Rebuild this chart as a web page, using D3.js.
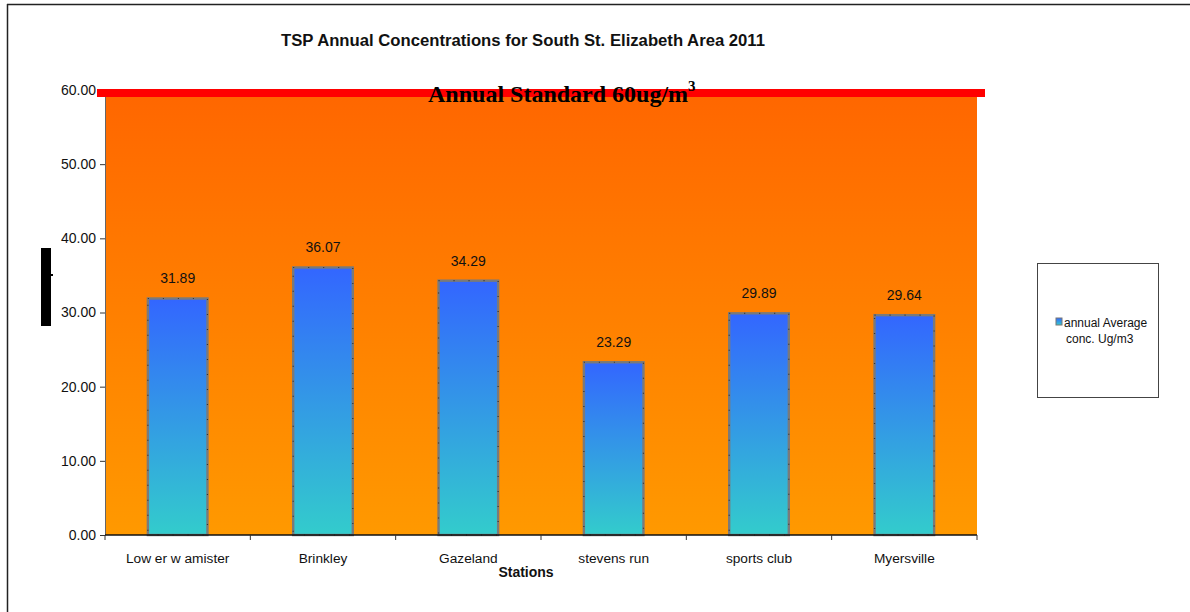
<!DOCTYPE html>
<html>
<head>
<meta charset="utf-8">
<script src="https://cdn.jsdelivr.net/npm/d3@7"></script>
<style>
  html, body { margin: 0; padding: 0; background: #fff; }
  svg { display: block; font-family: "Liberation Sans", Arial, sans-serif; }
</style>
</head>
<body>
<svg id="chart" width="1190" height="612"></svg>
<script>
// Stations and their annual average TSP concentrations (ug/m3)
const stations = ["Low er w amister", "Brinkley", "Gazeland", "stevens run", "sports club", "Myersville"];
const annualAverage = [31.89, 36.07, 34.29, 23.29, 29.89, 29.64];
const yTicks = [0, 10, 20, 30, 40, 50, 60];
const annualStandard = 60;

const svg = d3.select("#chart");
const plot = { left: 105, right: 977, top: 90, bottom: 535 };

const x = d3.scaleBand().domain(stations).range([plot.left, plot.right]).paddingInner(0.59).paddingOuter(0.295);
const y = d3.scaleLinear().domain([0, 60]).range([plot.bottom, plot.top]);

const defs = svg.append("defs");
function vGrad(id, top, bottom) {
  const g = defs.append("linearGradient").attr("id", id).attr("x1", 0).attr("y1", 0).attr("x2", 0).attr("y2", 1);
  g.append("stop").attr("offset", "0%").attr("stop-color", top);
  g.append("stop").attr("offset", "100%").attr("stop-color", bottom);
}
vGrad("bgGrad", "#ff6600", "#ff9900");
vGrad("barGrad", "#3366ff", "#33cccc");
vGrad("swGrad", "#3366ff", "#33cccc");

// outer frame (top and left edges visible)
svg.append("line").attr("x1", 7).attr("x2", 1190).attr("y1", 4.5).attr("y2", 4.5).attr("stroke", "#222").attr("stroke-width", 1.5);
svg.append("line").attr("x1", 7.5).attr("x2", 7.5).attr("y1", 4).attr("y2", 612).attr("stroke", "#222").attr("stroke-width", 1.5);

// title
svg.append("text").attr("x", 523).attr("y", 46).attr("text-anchor", "middle")
  .attr("font-size", 16).attr("font-weight", "bold").attr("fill", "#111")
  .attr("textLength", 484).attr("lengthAdjust", "spacingAndGlyphs")
  .text("TSP Annual Concentrations for South St. Elizabeth Area 2011");

// plot background
svg.append("rect").attr("x", plot.left).attr("y", plot.top)
  .attr("width", plot.right - plot.left).attr("height", plot.bottom - plot.top)
  .attr("fill", "url(#bgGrad)");

// bars
const bars = svg.append("g");
bars.selectAll("rect.bar").data(annualAverage).join("rect").attr("class", "bar")
  .attr("x", (d, i) => x(stations[i]))
  .attr("y", d => y(d))
  .attr("width", x.bandwidth())
  .attr("height", d => y(0) - y(d))
  .attr("fill", "url(#barGrad)")
  .attr("stroke", "#7a7a7a").attr("stroke-width", 2.4);
// small dark marks along bar outlines
bars.selectAll("rect.marks").data(annualAverage).join("rect").attr("class", "marks")
  .attr("x", (d, i) => x(stations[i]))
  .attr("y", d => y(d))
  .attr("width", x.bandwidth())
  .attr("height", d => y(0) - y(d))
  .attr("fill", "none")
  .attr("stroke", "#333").attr("stroke-width", 1.2).attr("stroke-dasharray", "1 14");

// value labels
svg.append("g").selectAll("text").data(annualAverage).join("text")
  .attr("x", (d, i) => x(stations[i]) + x.bandwidth() / 2)
  .attr("y", d => y(d) - 15)
  .attr("text-anchor", "middle").attr("font-size", 14).attr("fill", "#111")
  .text(d => d.toFixed(2));

// y axis
const yAxis = svg.append("g").attr("transform", `translate(${plot.left},0)`)
  .call(d3.axisLeft(y).tickValues(yTicks).tickFormat(d3.format(".2f")).tickSize(5).tickPadding(4));
yAxis.select(".domain").attr("stroke", "#666").attr("stroke-width", 1);
yAxis.selectAll(".tick line").attr("stroke", "#333");
yAxis.selectAll(".tick text").attr("font-size", 14).attr("fill", "#111").attr("font-family", "Liberation Sans, Arial, sans-serif");

// x axis with ticks on category boundaries
const xAxis = svg.append("g").attr("transform", `translate(0,${plot.bottom})`);
xAxis.append("line").attr("x1", plot.left).attr("x2", plot.right).attr("stroke", "#111").attr("stroke-width", 1.5);
const bounds = d3.range(stations.length + 1).map(i => plot.left + i * (plot.right - plot.left) / stations.length);
xAxis.selectAll("line.tk").data(bounds).join("line").attr("class", "tk")
  .attr("x1", d => d).attr("x2", d => d).attr("y1", 0).attr("y2", 5).attr("stroke", "#333");
xAxis.selectAll("text").data(stations).join("text")
  .attr("x", d => x(d) + x.bandwidth() / 2).attr("y", 28)
  .attr("text-anchor", "middle").attr("font-size", 13.7).attr("fill", "#111")
  .text(d => d);

// x axis title
svg.append("text").attr("x", 526).attr("y", 577).attr("text-anchor", "middle")
  .attr("font-size", 14).attr("font-weight", "bold").attr("fill", "#111").text("Stations");

// y axis title block
svg.append("rect").attr("x", 41).attr("y", 248).attr("width", 10).attr("height", 78).attr("fill", "#000");
svg.append("rect").attr("x", 51).attr("y", 274).attr("width", 2).attr("height", 2).attr("fill", "#000");

// annual standard line
svg.append("rect").attr("x", 97).attr("y", y(annualStandard) - 1).attr("width", 888).attr("height", 8).attr("fill", "#ff0000");
const std = svg.append("text").attr("x", 428).attr("y", 102)
  .attr("font-family", "Liberation Serif, Times New Roman, serif").attr("font-weight", "bold")
  .attr("font-size", 24).attr("fill", "#000");
std.append("tspan").text("Annual Standard 60ug/m");
std.append("tspan").attr("dy", -11).attr("font-size", 15).text("3");

// legend
const lg = svg.append("g");
lg.append("rect").attr("x", 1037.5).attr("y", 263.5).attr("width", 121).attr("height", 134)
  .attr("fill", "#fff").attr("stroke", "#444").attr("stroke-width", 1);
lg.append("rect").attr("x", 1056).attr("y", 318).attr("width", 6).attr("height", 7)
  .attr("fill", "url(#swGrad)").attr("stroke", "#777").attr("stroke-width", 1);
lg.append("text").attr("x", 1064).attr("y", 327).attr("font-size", 12).attr("fill", "#111").text("annual Average");
lg.append("text").attr("x", 1066).attr("y", 343).attr("font-size", 12).attr("fill", "#111").text("conc. Ug/m3");
</script>
</body>
</html>
